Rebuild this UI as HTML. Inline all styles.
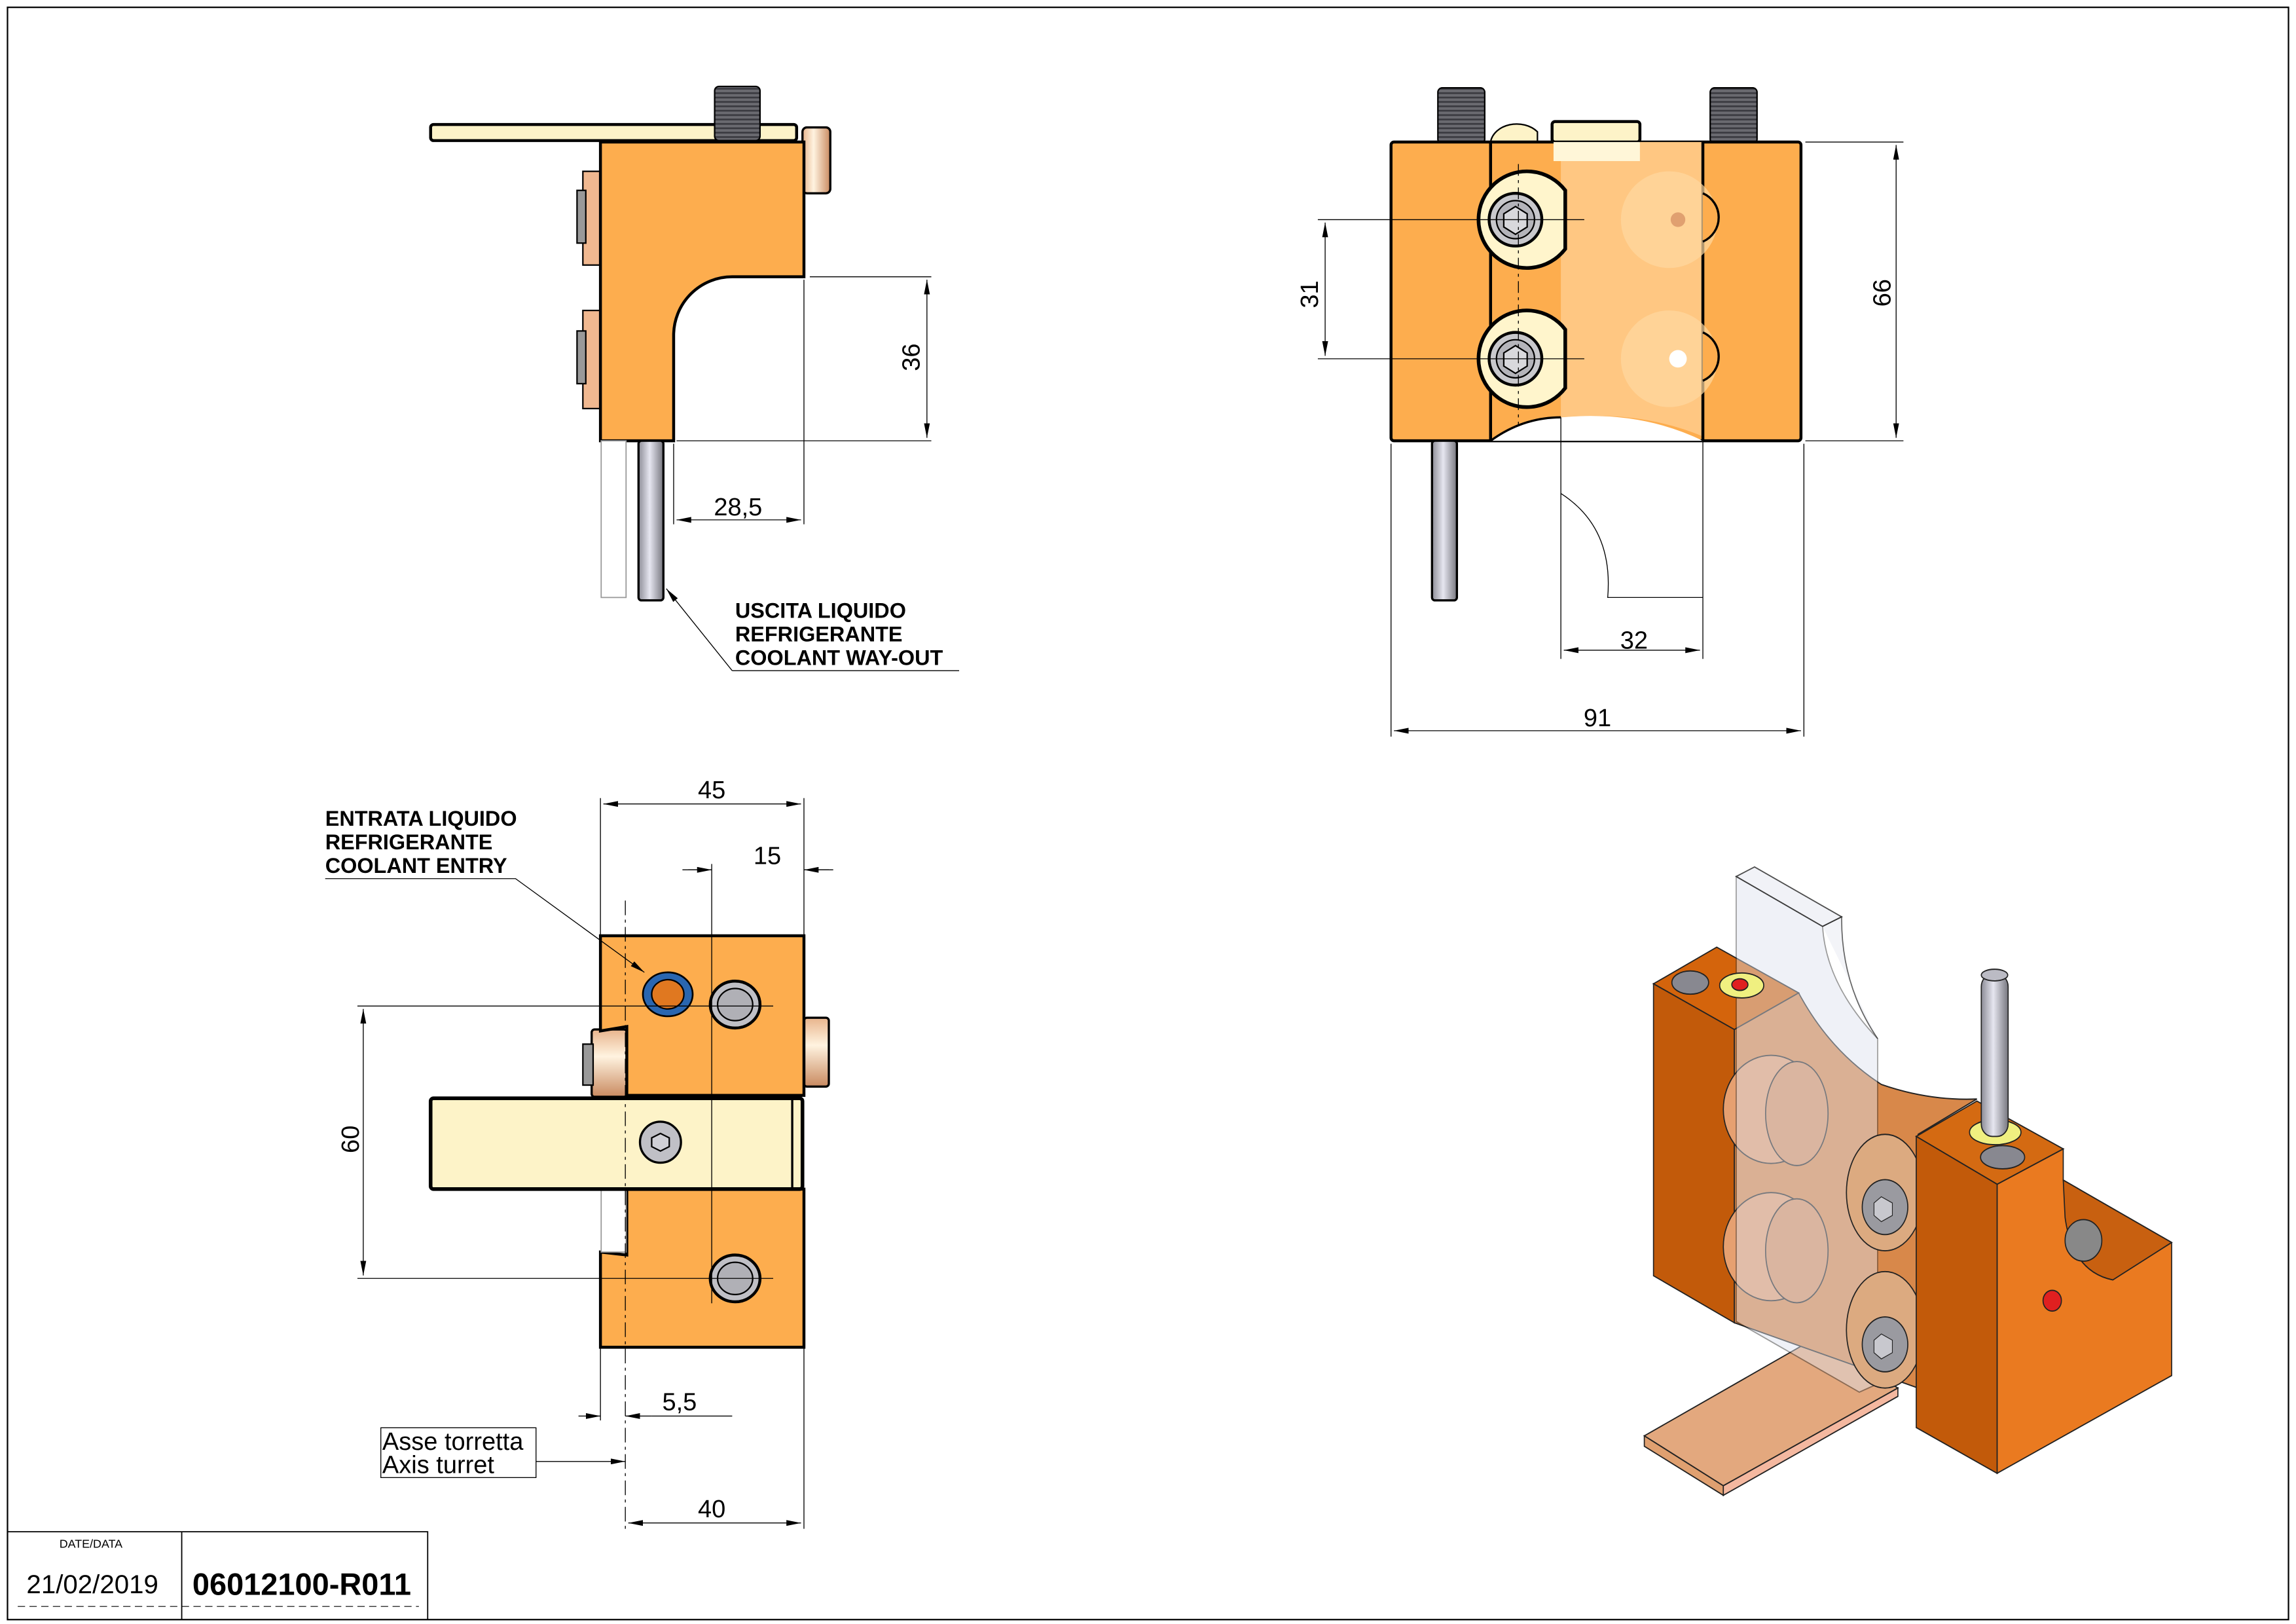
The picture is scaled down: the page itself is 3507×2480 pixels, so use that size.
<!DOCTYPE html>
<html><head><meta charset="utf-8"><style>
html,body{margin:0;padding:0;background:#fff;}
svg{display:block;}
text{font-family:"Liberation Sans",sans-serif;}
</style></head><body>
<svg width="3507" height="2480" viewBox="0 0 1568 1109" xmlns="http://www.w3.org/2000/svg">
<defs>
<linearGradient id="pin" x1="0" x2="1"><stop offset="0" stop-color="#8c8c96"/><stop offset=".45" stop-color="#e6e6f0"/><stop offset="1" stop-color="#77777f"/></linearGradient>
<linearGradient id="btn" x1="0" x2="0" y1="0" y2="1"><stop offset="0" stop-color="#e8b48c"/><stop offset=".4" stop-color="#fff3e0"/><stop offset="1" stop-color="#c98a60"/></linearGradient>
<linearGradient id="btnh" x1="0" x2="1"><stop offset="0" stop-color="#e8b48c"/><stop offset=".4" stop-color="#fff3e0"/><stop offset="1" stop-color="#c98a60"/></linearGradient>
<pattern id="thr" width="4" height="3" patternUnits="userSpaceOnUse"><rect width="4" height="3" fill="#6a6a70"/><rect width="4" height="1.2" fill="#3a3a40"/></pattern>
<marker id="a" viewBox="0 0 10 4" refX="10" refY="2" markerWidth="10" markerHeight="4" orient="auto-start-reverse" markerUnits="userSpaceOnUse"><path d="M0,0L10,2L0,4z" fill="#000"/></marker>
</defs>
<rect x="5" y="5" width="1558" height="1101" fill="none" stroke="#000" stroke-width="1"/>

<!-- ============ TOP LEFT VIEW ============ -->
<g stroke="#000">
<rect x="294" y="85" width="250" height="11" rx="2" fill="#fdf3c8" stroke-width="2"/>
<rect x="488" y="59" width="31" height="37" rx="3" fill="url(#thr)" stroke-width="1"/>
<rect x="548" y="87" width="19" height="45" rx="3" fill="url(#btnh)" stroke-width="1.5"/>
<rect x="398" y="117" width="12" height="64" fill="#f0b890" stroke-width="1"/>
<rect x="394" y="130" width="6" height="36" fill="#999" stroke-width="1"/>
<rect x="398" y="212" width="12" height="67" fill="#f0b890" stroke-width="1"/>
<rect x="394" y="226" width="6" height="36" fill="#999" stroke-width="1"/>
<path d="M410,97H549V189H500A40,40 0 0 0 460,229V301H410Z" fill="#fdad4e" stroke-width="2"/>
<rect x="410.5" y="301" width="17" height="107" fill="#fff" stroke="#999" stroke-width="0.8"/>
<rect x="436" y="301" width="17" height="109" rx="2" fill="url(#pin)" stroke-width="1.5"/>
</g>
<g stroke="#000" stroke-width="0.6" fill="none">
<path d="M553,189H636M462,301H636M460,303V358M549,191V358"/>
<path d="M633,191V299" marker-start="url(#a)" marker-end="url(#a)"/>
<path d="M462,355H547" marker-start="url(#a)" marker-end="url(#a)"/>
<path d="M500,458L455,402" marker-end="url(#a)"/><path d="M500,458H655"/>
</g>
<text x="0" y="0" font-size="17" transform="translate(628,244) rotate(-90)" text-anchor="middle">36</text>
<text x="504" y="352" font-size="17" text-anchor="middle">28,5</text>
<g font-size="14.5" font-weight="bold"><text x="502" y="422">USCITA LIQUIDO</text><text x="502" y="438">REFRIGERANTE</text><text x="502" y="454">COOLANT WAY-OUT</text></g>

<!-- ============ TOP RIGHT VIEW ============ -->
<g stroke="#000">
<rect x="982" y="60" width="32" height="38" rx="3" fill="url(#thr)" stroke-width="1"/>
<rect x="1168" y="60" width="32" height="38" rx="3" fill="url(#thr)" stroke-width="1"/>
<path d="M1018,97A18,14 0 0 1 1050,90V97Z" fill="#fdf3c8" stroke-width="1"/>
<rect x="950" y="97" width="280" height="204" rx="2" fill="#fdad4e" stroke-width="2"/>
<path d="M1066,97H1163V298Q1120,280 1066,285Z" fill="#ffc782" stroke="none"/>
<path d="M1018,301Q1040,285 1066,285Q1120,280 1163,301Z" fill="#fff" stroke="none"/>
<path d="M1018,301Q1040,285 1066,285" fill="none" stroke-width="1.5"/>
<line x1="1018" y1="97" x2="1018" y2="301" stroke-width="2"/>
<line x1="1163" y1="97" x2="1163" y2="301" stroke-width="2"/>
<rect x="1060" y="83" width="60" height="14" rx="2" fill="#fdf3c8" stroke-width="2"/>
<rect x="1061" y="97" width="59" height="13" fill="#fff6d8" stroke="none"/>
<circle cx="1140" cy="150" r="33" fill="#ffd8a0" stroke="none" opacity=".7"/>
<circle cx="1140" cy="245" r="33" fill="#ffd8a0" stroke="none" opacity=".7"/>
<circle cx="1146" cy="150" r="5" fill="#e0a070" stroke="none"/>
<circle cx="1146" cy="245" r="6" fill="#fff" stroke="none"/>
<path d="M1163,165A18,18 0 0 0 1163,132" fill="#fdad4e" stroke-width="1.5"/>
<path d="M1163,260A18,18 0 0 0 1163,227" fill="#fdad4e" stroke-width="1.5"/>
<path d="M1069,130A33,33 0 1 0 1069,170Z" fill="#fff5cc" stroke-width="2.5"/>
<path d="M1069,225A33,33 0 1 0 1069,265Z" fill="#fff5cc" stroke-width="2.5"/>
<circle cx="1035" cy="150" r="18" fill="#c8c8cc" stroke-width="2"/>
<circle cx="1035" cy="245" r="18" fill="#c8c8cc" stroke-width="2"/>
<circle cx="1035" cy="150" r="13" fill="#b4b4ba" stroke-width="1"/>
<circle cx="1035" cy="245" r="13" fill="#b4b4ba" stroke-width="1"/>
<path d="M1035,141L1043,146V155L1035,160L1027,155V146Z" fill="#d8d8dc" stroke-width="1"/>
<path d="M1035,236L1043,241V250L1035,255L1027,250V241Z" fill="#d8d8dc" stroke-width="1"/>
<rect x="978" y="301" width="17" height="109" rx="2" fill="url(#pin)" stroke-width="1.5"/>
</g>
<g stroke="#000" stroke-width="0.6" fill="none">
<path d="M900,150H1082M900,245H1082" />
<path d="M1037,112V290" stroke-dasharray="8,3,2,3"/>
<path d="M905,152V243" marker-start="url(#a)" marker-end="url(#a)"/>
<path d="M1233,97H1300M1233,301H1300"/>
<path d="M1295,99V299" marker-start="url(#a)" marker-end="url(#a)"/>
<path d="M1066,285V450M1163,301V450M1066,337Q1102,360 1098,408H1163"/>
<path d="M1068,444H1161" marker-start="url(#a)" marker-end="url(#a)"/>
<path d="M950,303V503M1232,303V503"/>
<path d="M952,499H1230" marker-start="url(#a)" marker-end="url(#a)"/>
</g>
<text font-size="17" transform="translate(900,201) rotate(-90)" text-anchor="middle">31</text>
<text font-size="17" transform="translate(1291,200) rotate(-90)" text-anchor="middle">66</text>
<text x="1116" y="443" font-size="17" text-anchor="middle">32</text>
<text x="1091" y="496" font-size="17" text-anchor="middle">91</text>

<!-- ============ BOTTOM LEFT VIEW ============ -->
<g stroke="#000">
<rect x="549" y="695" width="17" height="47" rx="2" fill="url(#btn)" stroke-width="1.5"/>
<rect x="404" y="703" width="24" height="46" rx="2" fill="url(#btn)" stroke-width="1.5"/>
<rect x="398" y="713" width="7" height="28" fill="#999" stroke-width="1"/>
<path d="M410,639H549V748H428V701L410,704Z" fill="#fdad4e" stroke-width="2"/>
<path d="M428,812H549V920H410V855L428,857Z" fill="#fdad4e" stroke-width="2"/>
<rect x="410.5" y="812" width="17" height="43" fill="#fff" stroke="#999" stroke-width="0.8"/>
<rect x="294" y="750" width="254" height="62" rx="2" fill="#fdf3c8" stroke-width="2.5"/>
<line x1="541" y1="750" x2="541" y2="812" stroke-width="1.5"/>
<ellipse cx="451" cy="780" rx="14" ry="14" fill="#c0c0c6" stroke-width="1.5"/>
<path d="M451,774L457,777V783L451,786L445,783V777Z" fill="#d0d0d6" stroke-width="1"/>
<ellipse cx="502" cy="686" rx="17" ry="16" fill="#c0c0c6" stroke-width="2"/>
<ellipse cx="502" cy="686" rx="12" ry="11" fill="#b0b0b6" stroke-width="1"/>
<ellipse cx="502" cy="873" rx="17" ry="16" fill="#c0c0c6" stroke-width="2"/>
<ellipse cx="502" cy="873" rx="12" ry="11" fill="#b0b0b6" stroke-width="1"/>
<ellipse cx="456" cy="679" rx="17" ry="15" fill="#2a66b0" stroke-width="1.2"/>
<ellipse cx="456" cy="679" rx="11" ry="10" fill="#e07820" stroke-width="1"/>
</g>
<g stroke="#000" stroke-width="0.6" fill="none">
<path d="M427,615V1045" stroke-dasharray="10,3,2,3"/>
<path d="M410,545V639M549,545V639M486,590V890M549,590V639"/>
<path d="M412,549H547" marker-start="url(#a)" marker-end="url(#a)"/>
<path d="M466,594H486M549,594H569"/>
<path d="M470,594H486" marker-end="url(#a)"/><path d="M566,594H549" marker-end="url(#a)"/>
<path d="M244,687H528M244,873H528"/>
<path d="M248,689V871" marker-start="url(#a)" marker-end="url(#a)"/>
<path d="M410,920V970M549,920V1044"/>
<path d="M395,967H410" marker-end="url(#a)"/><path d="M445,967H427" marker-end="url(#a)"/><path d="M445,967H500"/>
<path d="M366,998H427" marker-end="url(#a)"/>
<path d="M429,1040H547" marker-start="url(#a)" marker-end="url(#a)"/>
<path d="M222,600H352L440,664" marker-end="url(#a)"/>
</g>
<text x="486" y="545" font-size="17" text-anchor="middle">45</text>
<text x="524" y="590" font-size="17" text-anchor="middle">15</text>
<text font-size="17" transform="translate(245,778) rotate(-90)" text-anchor="middle">60</text>
<text x="464" y="963" font-size="17" text-anchor="middle">5,5</text>
<text x="486" y="1036" font-size="17" text-anchor="middle">40</text>
<rect x="260" y="975" width="106" height="34" fill="none" stroke="#000" stroke-width="0.6"/>
<g font-size="17"><text x="261" y="990">Asse torretta</text><text x="261" y="1006">Axis turret</text></g>
<g font-size="14.5" font-weight="bold"><text x="222" y="564">ENTRATA LIQUIDO</text><text x="222" y="580">REFRIGERANTE</text><text x="222" y="596">COOLANT ENTRY</text></g>

<!-- ============ 3D VIEW ============ -->
<g transform="translate(1109.2,581.5) scale(0.251,0.284)" stroke="#222" stroke-width="3">
<path d="M55,1405L520,1170L745,1290L270,1525Z" fill="#e3a87e"/>
<path d="M55,1405L270,1525V1548L55,1430Z" fill="#e0a070"/>
<path d="M270,1525L745,1290V1310L270,1548Z" fill="#f4b8a0"/>
<path d="M80,318L252,230L475,340L300,428Z" fill="#d4640c"/>
<path d="M80,318L300,428V1133L80,1020Z" fill="#c25a0a"/>
<path d="M300,428L475,340Q560,480 700,560Q830,600 960,595L800,680V1290L300,1133Z" fill="#d8884a"/>
<ellipse cx="400" cy="620" rx="130" ry="130" fill="#e6a070"/>
<ellipse cx="400" cy="950" rx="130" ry="130" fill="#e6a070"/>
<ellipse cx="470" cy="630" rx="85" ry="125" fill="#d89060"/>
<ellipse cx="470" cy="960" rx="85" ry="125" fill="#d89060"/>
<path d="M305,60L355,37L592,157L540,180L305,60Z" fill="#eef0f6" opacity=".8"/>
<path d="M305,60L540,180Q550,320 690,450V1280L640,1300L305,1130Z" fill="#dde2ee" opacity=".45"/>
<path d="M540,180L592,157Q590,320 690,450" fill="#eef0f6" opacity=".7"/>
<ellipse cx="710" cy="820" rx="105" ry="140" fill="#dcaa80"/>
<ellipse cx="710" cy="1150" rx="105" ry="140" fill="#dcaa80"/>
<ellipse cx="710" cy="855" rx="62" ry="66" fill="#9a9aa0"/>
<ellipse cx="710" cy="1185" rx="62" ry="66" fill="#9a9aa0"/>
<path d="M700,830L730,845V875L700,890L680,875V845Z" fill="#c8c8ce" stroke-width="2"/>
<path d="M700,1160L730,1175V1205L700,1220L680,1205V1175Z" fill="#c8c8ce" stroke-width="2"/>
<path d="M1015,800L1195,715V790L1490,940V1260L1015,1495Z" fill="#ea7a20"/>
<path d="M1195,790L1490,940L1330,1030Q1220,1010 1200,880Z" fill="#c86010"/>
<ellipse cx="1250" cy="935" rx="50" ry="50" fill="#888"/>
<path d="M795,685L960,600L1195,715L1015,800Z" fill="#d46a12"/>
<path d="M795,685L1015,800V1495L795,1385Z" fill="#c25a0a"/>
<ellipse cx="1010" cy="675" rx="70" ry="30" fill="#f0f080"/>
<ellipse cx="1030" cy="735" rx="60" ry="28" fill="#888890"/>
<ellipse cx="180" cy="315" rx="50" ry="28" fill="#888890"/>
<ellipse cx="320" cy="322" rx="60" ry="30" fill="#f0f080"/>
<ellipse cx="315" cy="320" rx="22" ry="14" fill="#e02020"/>
<ellipse cx="1165" cy="1080" rx="25" ry="25" fill="#e02020"/>
<rect x="972" y="295" width="73" height="390" rx="30" fill="url(#pin)"/>
<ellipse cx="1008" cy="297" rx="36" ry="14" fill="#bbbbc4"/>
</g>

<!-- ============ TITLE BLOCK ============ -->
<g stroke="#000" stroke-width="0.8" fill="none">
<path d="M5,1046H292V1106M124,1046V1106"/>
<path d="M12,1097H286" stroke-dasharray="5,3" stroke-width="0.5"/>
</g>
<text x="62" y="1057" font-size="8" text-anchor="middle">DATE/DATA</text>
<text x="63" y="1088" font-size="18" text-anchor="middle">21/02/2019</text>
<text x="206" y="1089" font-size="21" font-weight="bold" text-anchor="middle">06012100-R011</text>
</svg>
</body></html>
